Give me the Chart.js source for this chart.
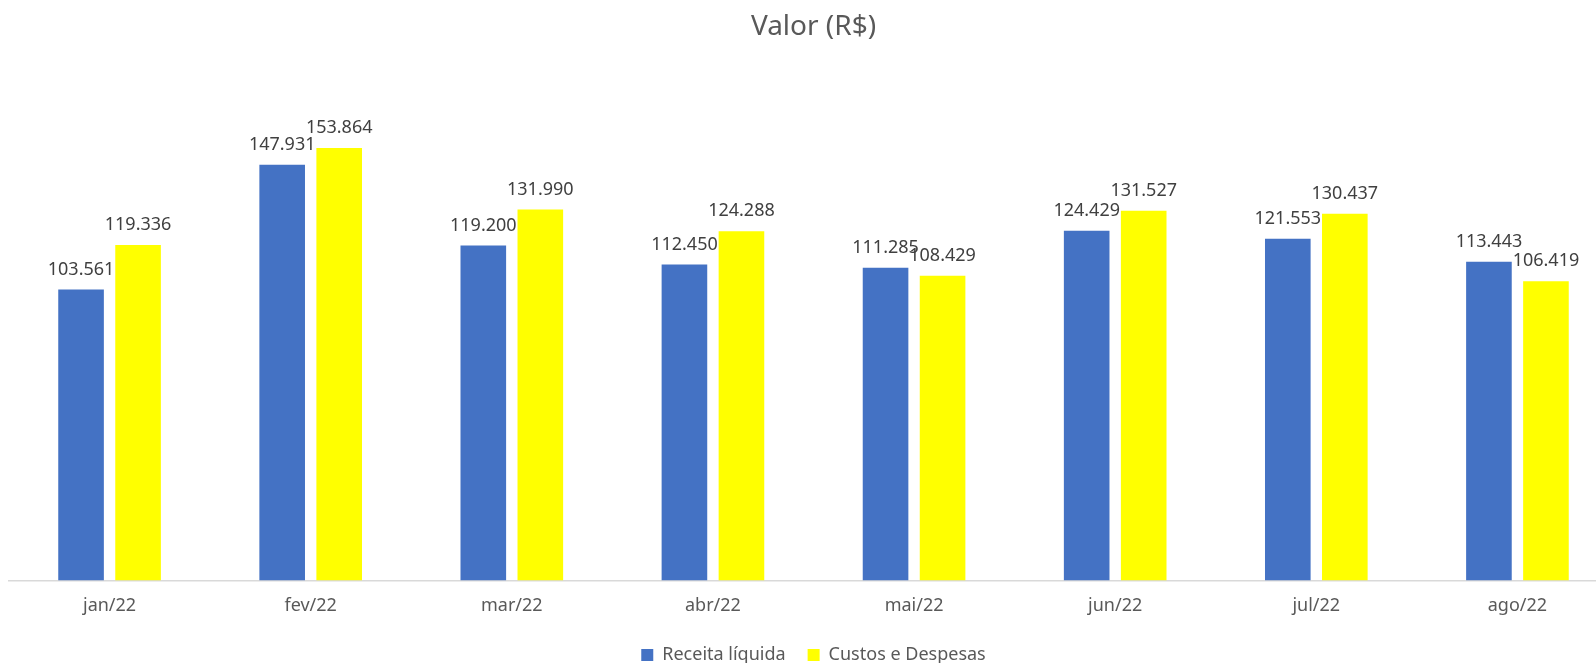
<!DOCTYPE html>
<html>
<head>
<meta charset="utf-8">
<script src="https://cdn.jsdelivr.net/npm/chart.js@4"></script>
<style>
  html, body { margin: 0; padding: 0; background: #fff; overflow: hidden; }
</style>
</head>
<body>
<canvas id="valor-chart" width="1627" height="663"></canvas>
<script>
var meses = ['jan/22', 'fev/22', 'mar/22', 'abr/22', 'mai/22', 'jun/22', 'jul/22', 'ago/22'];
var receitaLiquida = [103561, 147931, 119200, 112450, 111285, 124429, 121553, 113443];
var custosDespesas = [119336, 153864, 131990, 124288, 108429, 131527, 130437, 106419];

// formats 103561 as "103.561"
function formatValor(v) {
    return String(v).replace(/\B(?=(\d{3})+(?!\d))/g, '.');
}

// draws the value above each bar
var rotulos = {
    id: 'rotulos',
    afterDatasetsDraw: function(chart) {
        var ctx = chart.ctx;
        ctx.save();
        ctx.font = '18px "Noto Sans"';
        ctx.fillStyle = '#404040';
        ctx.textAlign = 'center';
        ctx.textBaseline = 'bottom';
        chart.data.datasets.forEach(function(ds, i) {
            chart.getDatasetMeta(i).data.forEach(function(bar, j) {
                ctx.fillText(formatValor(ds.data[j]), bar.x, bar.y - 11);
            });
        });
        ctx.restore();
    }
};

var ctx = document.getElementById('valor-chart').getContext('2d');

var chart = new Chart(ctx, {
    type: 'bar',
    data: {
        labels: meses,
        datasets: [{
            label: 'Receita líquida',
            backgroundColor: '#4472C4',
            data: receitaLiquida,
        }, {
            label: 'Custos e Despesas',
            backgroundColor: '#FFFF00',
            data: custosDespesas,
        }]
    },
    options: {
        responsive: false,
        animation: false,
        devicePixelRatio: 1,
        barPercentage: 0.8,
        categoryPercentage: 0.567,
        layout: { padding: { left: 9, right: 9, top: 0, bottom: -11 } },
        scales: {
            x: {
                grid: { display: false },
                border: { color: '#d9d9d9', width: 1.5 },
                ticks: { color: '#595959', font: { family: 'Noto Sans', size: 18 }, padding: 7 }
            },
            y: {
                display: false,
                min: 0,
                max: 180000
            }
        },
        plugins: {
            title: {
                display: true,
                text: 'Valor (R$)',
                color: '#595959',
                font: { family: 'Noto Sans', size: 28, weight: 'normal' },
                padding: { top: 10, bottom: 31 }
            },
            legend: {
                position: 'bottom',
                labels: {
                    color: '#595959',
                    font: { family: 'Noto Sans', size: 18 },
                    boxWidth: 12,
                    boxHeight: 12,
                    padding: 22
                }
            },
            tooltip: { enabled: false }
        }
    },
    plugins: [rotulos]
});
</script>
</body>
</html>
